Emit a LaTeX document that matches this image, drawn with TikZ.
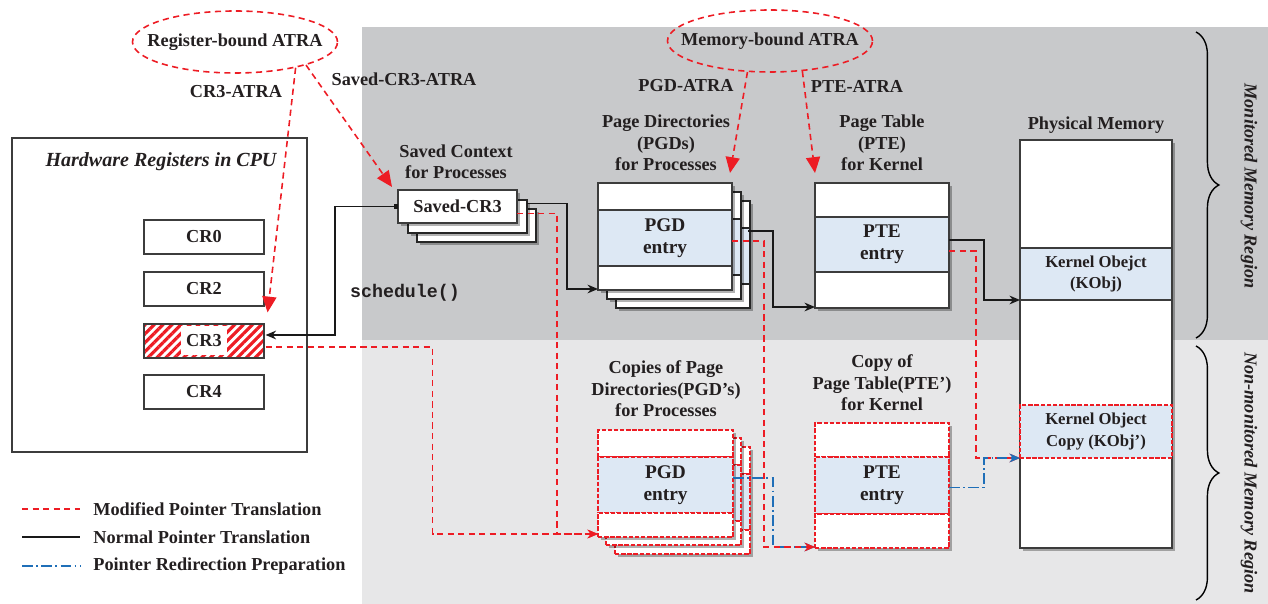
\documentclass[tikz,border=0pt]{standalone}
\usepackage{fontspec}
\setmainfont{Liberation Serif}
\setmonofont{Liberation Mono}
\usetikzlibrary{positioning,calc,arrows.meta,shadows,shapes.geometric,patterns.meta,decorations.pathreplacing}

\definecolor{atrared}{HTML}{ED1C24}
\definecolor{monigray}{HTML}{C8C9CB}
\definecolor{nonmgray}{HTML}{E7E7E8}
\definecolor{entryblue}{HTML}{DDE8F4}
\definecolor{redirblue}{HTML}{1F6FB8}
\definecolor{boxline}{HTML}{3C3C3C}
\definecolor{inkdark}{HTML}{231F20}

% one picture unit is one pixel of the original figure
\newcommand\pxu{0.02cm}

\tikzset{
  lbl/.style={font={\fontsize{10.4}{12.2}\selectfont\bfseries}, text=inkdark,
    align=center, inner sep=0pt},
  smalllbl/.style={lbl, font={\fontsize{9.5}{12}\selectfont\bfseries}},
  entrylbl/.style={lbl, font={\fontsize{11}{12.6}\selectfont\bfseries}},
  regionlbl/.style={font={\fontsize{10.4}{12.2}\selectfont\bfseries\itshape},
    text=inkdark, inner sep=0pt},
  shadebox/.style={drop shadow={shadow xshift=1.8pt, shadow yshift=-1.8pt,
    opacity=0.3, fill=black}},
  regbox/.style={lbl, draw=boxline, line width=0.8pt, fill=white,
    minimum width=120*\pxu, minimum height=34*\pxu},
  plaincell/.style={lbl, draw=boxline, line width=0.8pt, fill=white,
    outer sep=0pt, minimum width=134*\pxu},
  cell/.style={plaincell, shadebox},
  bluecell/.style={cell, entrylbl, fill=entryblue},
  backcell/.style={cell, draw=black!85, line width=1.4pt},
  copycell/.style={cell, draw=atrared, line width=1pt,
    dash pattern=on 2.5pt off 1pt},
  backcopy/.style={copycell, line width=1.5pt},
  atra/.style={ellipse, draw=atrared, line width=0.9pt,
    dash pattern=on 3.5pt off 2.5pt,
    minimum width=205*\pxu, minimum height=62*\pxu},
  normalptr/.style={draw=black!90, line width=0.8pt,
    -{Stealth[length=6pt,width=5pt]}},
  modptr/.style={draw=atrared, line width=0.9pt,
    dash pattern=on 3.5pt off 2.5pt, -{Stealth[length=6pt,width=5pt]}},
  atraptr/.style={modptr, -{Triangle[length=9pt,width=8pt]}},
  redirptr/.style={draw=redirblue, line width=0.9pt,
    dash pattern=on 6pt off 2pt on 1pt off 2pt,
    -{Stealth[length=6pt,width=5pt]}},
  regionbrace/.style={decorate, decoration={brace, amplitude=13pt},
    line width=0.8pt}
}

\begin{document}
\begin{tikzpicture}[x=\pxu, y=-\pxu]
\useasboundingbox (0,0) rectangle (1268,604);

% the two memory regions
\fill[monigray] (362,27) rectangle (1268,340);
\fill[nonmgray] (362,340) rectangle (1268,604);

% ATRA groups and their names
\node[atra] (regAtra) at (235,42) {};
\node[lbl] (regAtraTxt) at (regAtra) {Register-bound ATRA};
\node[atra] (memAtra) at (770,41) {};
\node[lbl] (memAtraTxt) at (memAtra) {Memory-bound ATRA};
\node[lbl] (cr3Atra) at (236,92) {CR3-ATRA};
\node[lbl] (savAtra) at (404,79) {Saved-CR3-ATRA};
\node[lbl] (pgdAtra) at (686,86) {PGD-ATRA};
\node[lbl] (pteAtra) at (857,86) {PTE-ATRA};

% hardware registers
\node[draw=boxline, line width=0.9pt, minimum width=295*\pxu,
  minimum height=314*\pxu] (hw) at (159.5,295) {};
\node[lbl, font={\fontsize{11.4}{13}\selectfont\bfseries\itshape}]
  (hwTitle) at (161,162) {Hardware Registers in CPU};
\foreach \r/\y in {0/237,2/289,4/392}
  \node[regbox] (cr\r) at (204,\y) {CR\r};
\node[regbox, fill=none, pattern={Lines[angle=45,distance=3.6pt,line width=1.8pt]},
  pattern color=atrared] (cr3) at (204,341) {};
\node[lbl, fill=white, inner xsep=3pt, minimum height=29*\pxu]
  (cr3Txt) at (cr3) {CR3};

% saved context
\node[lbl] (savTitle) at (456,162) {Saved Context\\for Processes};
\foreach \o/\n in {19/c,10/b}
  \node[backcell, minimum width=119*\pxu, minimum height=33*\pxu]
    (sav\n) at (457.5+\o,206.5+\o) {};
\node[cell, minimum width=119*\pxu, minimum height=33*\pxu]
  (sav) at (457.5,206.5) {Saved-CR3};
\node[lbl, font={\fontsize{10.4}{12}\selectfont\ttfamily\bfseries}]
  (sched) at (405,293) {schedule()};

% page directories (stack of three)
\node[lbl] (pgdTitle) at (666,143) {Page Directories\\(PGDs)\\for Processes};
\foreach \o/\n in {18/c,9/b} {
  \node[backcell, minimum height=27*\pxu] (pgdT\n) at (665+\o,196.5+\o) {};
  \node[backcell, fill=entryblue, minimum height=56*\pxu,
    below=0pt of pgdT\n] (pgdE\n) {};
  \node[backcell, minimum height=24*\pxu, below=0pt of pgdE\n] (pgdB\n) {};
}
\node[cell, minimum height=27*\pxu] (pgdT) at (665,196.5) {};
\node[bluecell, minimum height=56*\pxu, below=0pt of pgdT] (pgdE) {PGD\\entry};
\node[cell, minimum height=24*\pxu, below=0pt of pgdE] (pgdB) {};

% page table
\node[lbl] (pteTitle) at (882,143) {Page Table\\(PTE)\\for Kernel};
\node[cell, minimum height=34*\pxu] (pteT) at (882,200) {};
\node[bluecell, minimum height=55*\pxu, below=0pt of pteT] (pteE) {PTE\\entry};
\node[cell, minimum height=36*\pxu, below=0pt of pteE] (pteB) {};

% physical memory
\node[lbl] (physTitle) at (1096,125) {Physical Memory};
\node[cell, minimum width=152*\pxu, minimum height=408*\pxu] (phys) at (1096,344) {};
\node[plaincell, smalllbl, fill=entryblue, minimum width=152*\pxu,
  minimum height=52*\pxu] (kobj) at (1096,274) {Kernel Obejct\\(KObj)};
\node[plaincell, smalllbl, fill=entryblue, draw=atrared, line width=1pt,
  dash pattern=on 2.5pt off 1pt, minimum width=152*\pxu,
  minimum height=53*\pxu] (kobjc) at (1096,431.5) {Kernel Object\\Copy (KObj')};

% copies in the non-monitored region
\node[lbl] (cpgdTitle) at (666,389) {Copies of Page\\Directories(PGD's)\\for Processes};
\foreach \o/\n in {17/c,8/b} {
  \node[backcopy, minimum width=135*\pxu, minimum height=27*\pxu]
    (cpgdT\n) at (665.5+\o,443.5+\o) {};
  \node[backcopy, fill=entryblue, minimum width=135*\pxu, minimum height=56*\pxu,
    below=0pt of cpgdT\n] (cpgdE\n) {};
  \node[backcopy, minimum width=135*\pxu, minimum height=24*\pxu,
    below=0pt of cpgdE\n] (cpgdB\n) {};
}
\node[copycell, minimum width=135*\pxu, minimum height=27*\pxu]
  (cpgdT) at (665.5,443.5) {};
\node[copycell, entrylbl, fill=entryblue, minimum width=135*\pxu,
  minimum height=56*\pxu, below=0pt of cpgdT] (cpgdE) {PGD\\entry};
\node[copycell, minimum width=135*\pxu, minimum height=24*\pxu,
  below=0pt of cpgdE] (cpgdB) {};

\node[lbl] (pteCTitle) at (882,383) {Copy of\\Page Table(PTE')\\for Kernel};
\node[copycell, minimum height=34*\pxu] (pteCT) at (882,440) {};
\node[copycell, entrylbl, fill=entryblue, minimum height=57*\pxu,
  below=0pt of pteCT] (pteCE) {PTE\\entry};
\node[copycell, minimum height=34*\pxu, below=0pt of pteCE] (pteCB) {};

% normal pointer translation
\draw[normalptr, {Square[length=2.5pt,width=2.5pt]}-{Stealth[length=6pt,width=5pt]}]
  (sav.west) -- ++(-63,0) |- ($(cr3.east)+(0,-6)$);
\draw[normalptr] ($(sav.east)+(10,-3)$) -- ++(40,0) |- ($(pgdB.south west)+(0,-1)$);
\draw[normalptr] ($(pgdE.east)+(16,-7)$) -- ++(25,0) |- ($(pteB.south west)+(0,-1)$);
\draw[normalptr] ($(pteE.east)+(0,-4.5)$) -- ++(35,0) |- (kobj.south west);

% pointer redirection preparation (under the red one at PTE')
\draw[redirptr] ($(cpgdE.east)+(0,-7)$) -- ++(40,0) |- ($(pteCB.south west)+(0,-1)$);

% modified pointer translation
\draw[modptr] ($(cr3.east)+(0,6)$) -- ++(167,0) |- ($(cpgdB.south west)+(0,-3)$);
\draw[modptr] ($(sav.east)+(0,7)$) -- ++(40,0) |- ($(cpgdB.south west)+(0,-3)$);
\draw[modptr] ($(pgdE.east)+(0,3)$) -- ++(32,0) |- ($(pteCB.south west)+(0,-1)$);
\draw[modptr] ($(pteE.east)+(0,6.5)$) -- ++(27,0) |- (kobjc.south west);

% redirection into the object copy (on top)
\draw[redirptr] ($(pteCE.east)+(0,2)$) -- ++(35,0) |- (kobjc.south west);

% ATRA arrows
\draw[atraptr] (regAtra.-23) -- ($(cr3.north east)+(2,-10)$);
\draw[atraptr] (regAtra.-18) -- ($(sav.north west)+(-6,-3)$);
\draw[atraptr] (memAtra.-126) -- ($(pgdT.north east)+(-2,-10)$);
\draw[atraptr] (memAtra.-43) -- ($(pteT.north west)+(0,-10)$);

% region braces
\coordinate (moniTop) at (1196,32);
\coordinate (moniBot) at (1196,338);
\coordinate (nonmTop) at (1196,346);
\coordinate (nonmBot) at (1196,600);
\draw[regionbrace] (moniTop) -- (moniBot);
\draw[regionbrace] (nonmTop) -- (nonmBot);
\node[regionlbl, rotate=-90] (moniLbl) at (1249,186) {Monitored Memory Region};
\node[regionlbl, rotate=-90] (nonmLbl) at (1249,473) {Non-monitored Memory Region};

% legend
\node[lbl, anchor=west] (lgMod) at (93,509) {Modified Pointer Translation};
\node[lbl, anchor=west] (lgNorm) at (93,537) {Normal Pointer Translation};
\node[lbl, anchor=west] (lgRedir) at (93,566) {Pointer Redirection Preparation};
\draw[modptr, -, line width=0.6pt] ($(lgMod.west)+(-71,0)$) -- ($(lgMod.west)+(-13,0)$);
\draw[normalptr, -] ($(lgNorm.west)+(-71,0)$) -- ($(lgNorm.west)+(-13,0)$);
\draw[redirptr, -, line width=0.6pt] ($(lgRedir.west)+(-71,0)$) -- ($(lgRedir.west)+(-13,0)$);
\end{tikzpicture}
\end{document}
